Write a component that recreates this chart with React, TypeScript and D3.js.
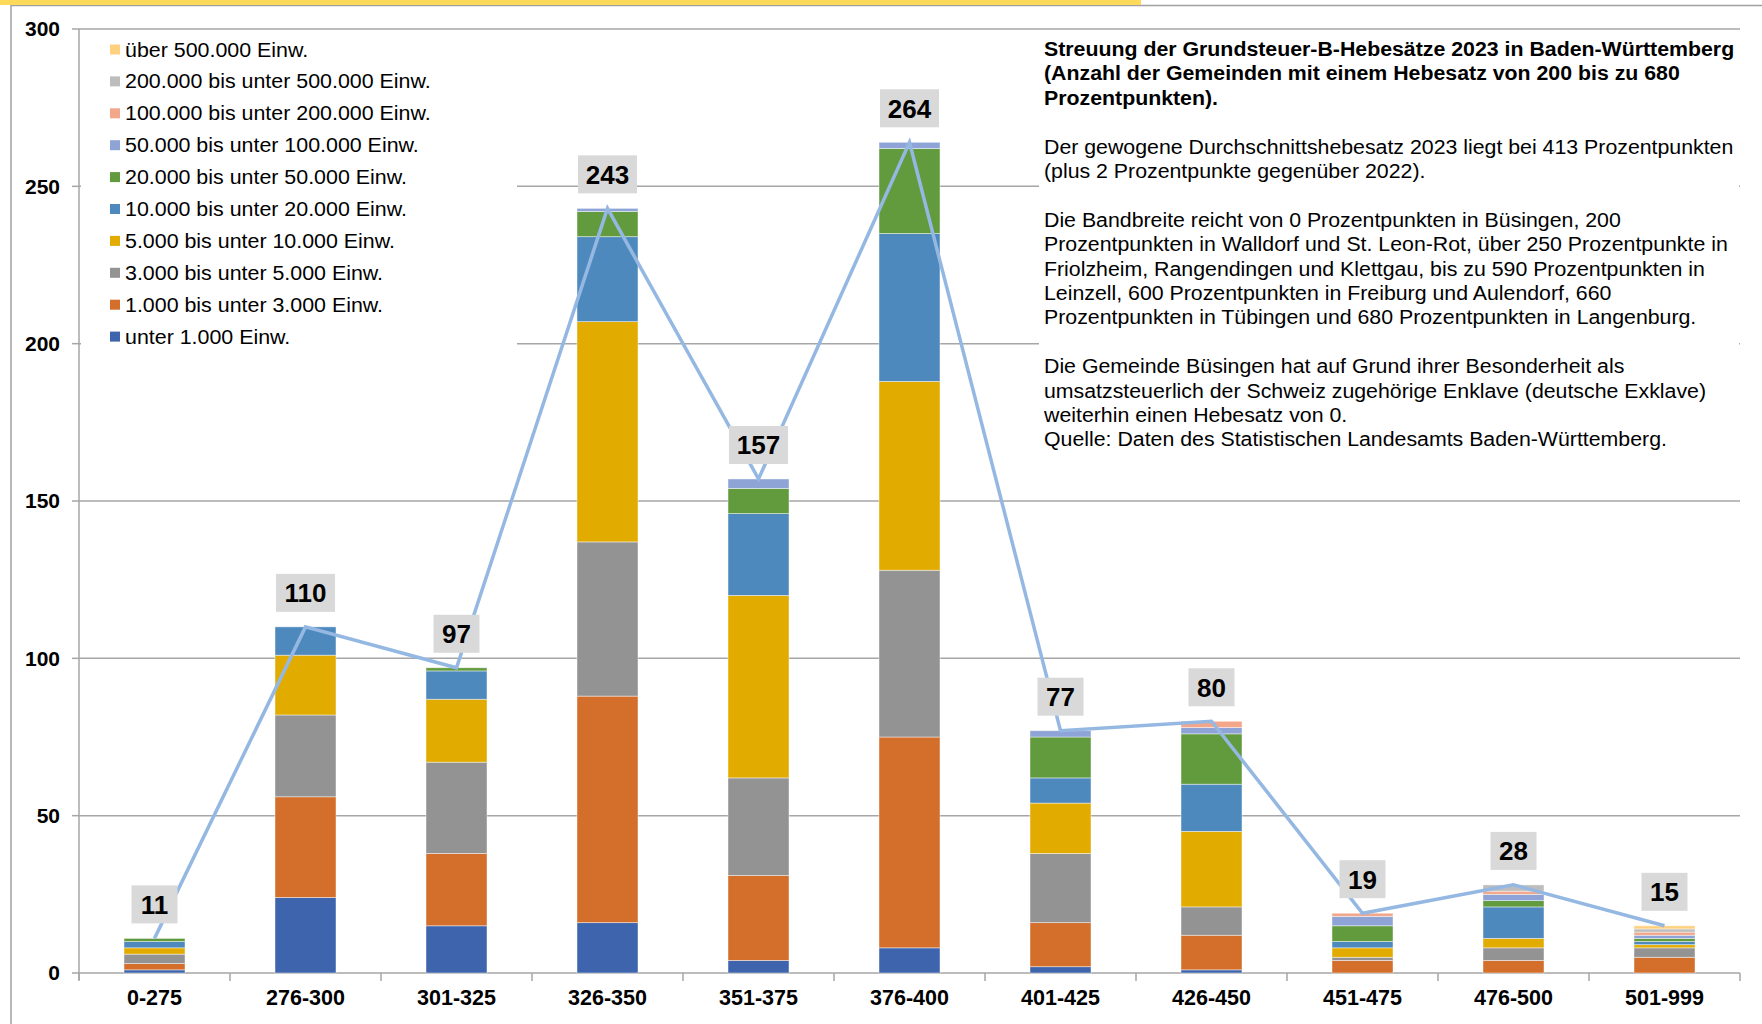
import React from "react";
import * as d3 from "d3";

const categories = ["0-275", "276-300", "301-325", "326-350", "351-375", "376-400", "401-425", "426-450", "451-475", "476-500", "501-999"];

const seriesNames = [
  "unter 1.000 Einw.",
  "1.000 bis unter 3.000 Einw.",
  "3.000 bis unter 5.000 Einw.",
  "5.000 bis unter 10.000 Einw.",
  "10.000 bis unter 20.000 Einw.",
  "20.000 bis unter 50.000 Einw.",
  "50.000 bis unter 100.000 Einw.",
  "100.000 bis unter 200.000 Einw.",
  "200.000 bis unter 500.000 Einw.",
  "über 500.000 Einw.",
];

const seriesColors = ["#3E64AE", "#D36E2B", "#939393", "#E2AB00", "#4E89BE", "#629A3E", "#8EA3D6", "#F2A68A", "#BDBDBD", "#FFD17F"];

const unter1000 = [1, 24, 15, 16, 4, 8, 2, 1, 0, 0, 0];
const s1000to3000 = [2, 32, 23, 72, 27, 67, 14, 11, 4, 4, 5];
const s3000to5000 = [3, 26, 29, 49, 31, 53, 22, 9, 1, 4, 3];
const s5000to10000 = [2, 19, 20, 70, 58, 60, 16, 24, 3, 3, 1];
const s10000to20000 = [2, 9, 9, 27, 26, 47, 8, 15, 2, 10, 1];
const s20000to50000 = [1, 0, 1, 8, 8, 27, 13, 16, 5, 2, 1];
const s50000to100000 = [0, 0, 0, 1, 3, 2, 2, 2, 3, 2, 1];
const s100000to200000 = [0, 0, 0, 0, 0, 0, 0, 2, 1, 1, 1];
const s200000to500000 = [0, 0, 0, 0, 0, 0, 0, 0, 0, 2, 1];
const ueber500000 = [0, 0, 0, 0, 0, 0, 0, 0, 0, 0, 1];

const totals = [11, 110, 97, 243, 157, 264, 77, 80, 19, 28, 15];
const yTicks = [0, 50, 100, 150, 200, 250, 300];

const titleLines = [
  "Streuung der Grundsteuer-B-Hebesätze 2023 in Baden-Württemberg",
  "(Anzahl der Gemeinden mit einem Hebesatz von 200 bis zu 680",
  "Prozentpunkten).",
];
const bodyLines = [
  "",
  "Der gewogene Durchschnittshebesatz 2023 liegt bei 413 Prozentpunkten",
  "(plus 2 Prozentpunkte gegenüber 2022).",
  "",
  "Die Bandbreite reicht von 0 Prozentpunkten in Büsingen, 200",
  "Prozentpunkten in Walldorf und St. Leon-Rot, über 250 Prozentpunkte in",
  "Friolzheim, Rangendingen und Klettgau, bis zu 590 Prozentpunkten in",
  "Leinzell, 600 Prozentpunkten in Freiburg und Aulendorf, 660",
  "Prozentpunkten in Tübingen und 680 Prozentpunkten in Langenburg.",
  "",
  "Die Gemeinde Büsingen hat auf Grund ihrer Besonderheit als",
  "umsatzsteuerlich der Schweiz zugehörige Enklave (deutsche Exklave)",
  "weiterhin einen Hebesatz von 0.",
  "Quelle: Daten des Statistischen Landesamts Baden-Württemberg.",
];

const W = 1762;
const H = 1024;
const FONT = "'Liberation Sans', Arial, Helvetica, sans-serif";

export default function App() {
  const seriesValues = [unter1000, s1000to3000, s3000to5000, s5000to10000, s10000to20000, s20000to50000, s50000to100000, s100000to200000, s200000to500000, ueber500000];
  const rows = categories.map((c, i) => {
    const r: any = { cat: c };
    seriesValues.forEach((s, k) => (r["k" + k] = s[i]));
    return r;
  });
  const keys = seriesValues.map((_, k) => "k" + k);
  const stacked = d3.stack().keys(keys)(rows);

  const left = 79;
  const right = 1740;
  const xOuter = d3.scaleBand().domain(categories).range([left, right]);
  const y = d3.scaleLinear().domain([0, 300]).range([973, 29]);

  const cx = (c: string) => (xOuter(c) as number) + xOuter.bandwidth() / 2;
  const bw = 61;

  const line = d3
    .line<number>()
    .x((_, i) => cx(categories[i]))
    .y((d) => y(d));

  const gridColor = "#A6A6A6";
  const legendItems = seriesNames.map((n, i) => ({ n, c: seriesColors[i] })).reverse();

  return (
    <svg width={W} height={H} style={{ position: "absolute", left: 0, top: 0, display: "block", background: "#fff" }} fontFamily={FONT}>
      <rect x={0} y={0} width={W} height={H} fill="#fff" />
      {/* frame */}
      <line x1={11} x2={W} y1={5.5} y2={5.5} stroke="#A0A0A0" strokeWidth={1.5} />
      <line x1={11} x2={11} y1={5} y2={H} stroke="#A0A0A0" strokeWidth={1.5} />
      <rect x={0} y={0} width={1141} height={5} fill="#FFD95A" />

      {/* gridlines */}
      {yTicks.filter((t) => t > 0).map((t) => (
        <line key={t} x1={left} x2={right} y1={y(t)} y2={y(t)} stroke={gridColor} strokeWidth={1.5} />
      ))}

      {/* legend background */}
      <rect x={left + 2} y={36} width={436} height={322} fill="#fff" />
      {/* text box background */}
      <rect x={1039} y={36} width={700} height={424} fill="#fff" />

      {/* y axis */}
      <line x1={left} x2={left} y1={y(300)} y2={y(0) + 7} stroke={gridColor} strokeWidth={1.5} />
      {yTicks.map((t) => (
        <g key={t}>
          <line x1={left - 7} x2={left} y1={y(t)} y2={y(t)} stroke={gridColor} strokeWidth={1.5} />
          <text x={60} y={y(t)} dy="0.35em" textAnchor="end" fontSize={21} fontWeight="bold" fill="#000">
            {t}
          </text>
        </g>
      ))}

      {/* x axis */}
      <line x1={left} x2={right} y1={y(0)} y2={y(0)} stroke={gridColor} strokeWidth={1.5} />
      {categories.map((c, i) => (
        <line key={"t" + i} x1={xOuter(c) as number} x2={xOuter(c) as number} y1={y(0)} y2={y(0) + 8} stroke={gridColor} strokeWidth={1.5} />
      ))}
      <line x1={right} x2={right} y1={y(0)} y2={y(0) + 8} stroke={gridColor} strokeWidth={1.5} />
      {categories.map((c) => (
        <text key={"l" + c} x={cx(c)} y={1005} textAnchor="middle" fontSize={21.5} fontWeight="bold" fill="#000">
          {c}
        </text>
      ))}

      {/* bars */}
      {stacked.map((s, k) => (
        <g key={k} fill={seriesColors[k]}>
          {s.map((d, i) =>
            d[1] - d[0] > 0 ? (
              <rect
                key={i}
                x={cx(categories[i]) - bw / 2}
                y={y(d[1])}
                width={bw}
                height={y(d[0]) - y(d[1])}
                stroke="#ffffff"
                strokeOpacity={0.55}
                strokeWidth={0.8}
              />
            ) : null
          )}
        </g>
      ))}

      {/* total line */}
      <path d={line(totals) || ""} fill="none" stroke="#95B8E3" strokeWidth={3.5} strokeLinejoin="miter" />

      {/* total labels */}
      {totals.map((t, i) => {
        const str = String(t);
        const w = str.length === 3 ? 59 : 46;
        const yc = y(t) - 34;
        return (
          <g key={"tl" + i}>
            <rect x={cx(categories[i]) - w / 2} y={yc - 19} width={w} height={38} fill="#D9D9D9" />
            <text x={cx(categories[i])} y={yc} dy="0.36em" textAnchor="middle" fontSize={26} fontWeight="bold" fill="#000">
              {str}
            </text>
          </g>
        );
      })}

      {/* legend */}
      {legendItems.map((it, i) => (
        <g key={"lg" + i} transform={`translate(110, ${49.5 + i * 31.9})`}>
          <rect x={0} y={-5} width={10} height={10} fill={it.c} />
          <text x={15} y={0} dy="0.35em" fontSize={20} fill="#000" transform="translate(15,0) scale(1.07,1) translate(-15,0)">
            {it.n}
          </text>
        </g>
      ))}

      {/* text box */}
      <g transform="translate(1044,0) scale(1.066,1)">
        {titleLines.map((l, i) => (
          <text key={"tt" + i} x={0} y={49 + i * 24.4} dy="0.35em" fontSize={20} fontWeight="bold" fill="#000">
            {l}
          </text>
        ))}
        {bodyLines.map((l, i) =>
          l ? (
            <text key={"bt" + i} x={0} y={49 + (i + 3) * 24.4} dy="0.35em" fontSize={20} fill="#000">
              {l}
            </text>
          ) : null
        )}
      </g>
    </svg>
  );
}
